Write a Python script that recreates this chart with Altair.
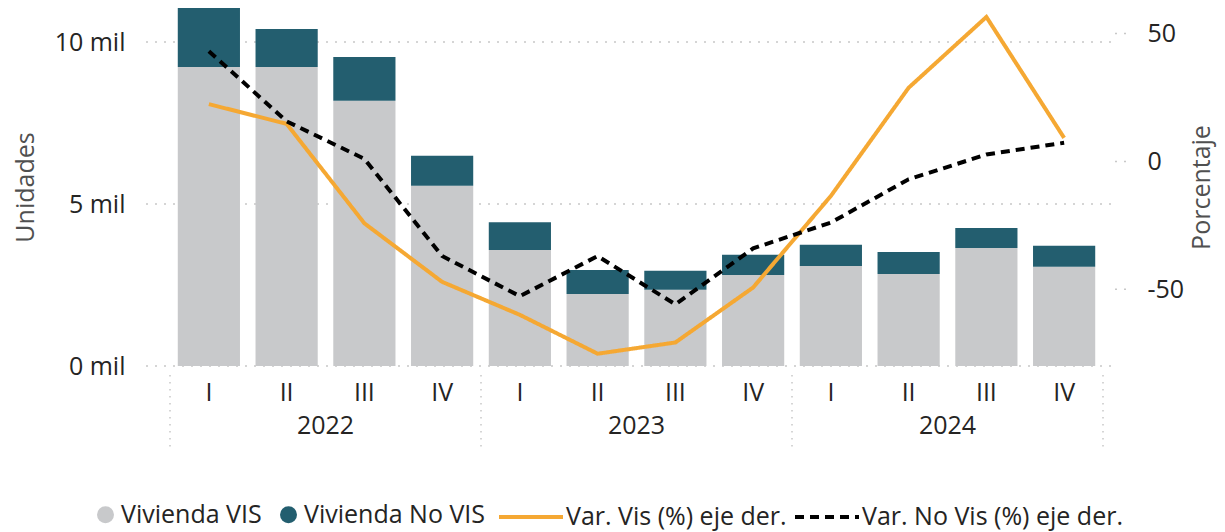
import altair as alt
import pandas as pd

FONT = "Open Sans"

# ---- data ----
years = ["2022", "2023", "2024"]
quarters = ["I", "II", "III", "IV"]
categories = [f"{y}-{q}" for y in years for q in quarters]

bar_series = ["Vivienda VIS", "Vivienda No VIS"]
vis = [9230, 9230, 8190, 5560, 3580, 2220, 2350, 2810, 3090, 2840, 3640, 3060]
no_vis = [1820, 1170, 1350, 930, 860, 740, 590, 620, 650, 680, 620, 650]

line_series = ["Var. Vis (%) eje der.", "Var. No Vis (%) eje der."]
var_vis = [22.4, 14.7, -24.2, -47.1, -60.0, -75.2, -70.8, -49.3, -13.5, 28.8, 56.5, 9.2]
var_no_vis = [43.1, 15.7, 1.0, -37.0, -52.7, -37.0, -55.9, -34.0, -23.9, -7.0, 2.7, 7.3]

left_ticks = [0, 5000, 10000]
right_ticks = [-50, 0, 50]
left_domain = [0, 11050]
right_domain = [-80, 60]

# ---- tables ----
bar_df = pd.DataFrame({
    "cat": categories * 2,
    "serie": [bar_series[0]] * 12 + [bar_series[1]] * 12,
    "value": vis + no_vis,
    "ord": [0] * 12 + [1] * 12,
})
line_df = pd.DataFrame({
    "cat": categories * 2,
    "serie": [line_series[0]] * 12 + [line_series[1]] * 12,
    "value": var_vis + var_no_vis,
})
grid_df = pd.DataFrame({"v": left_ticks})
rgrid_df = pd.DataFrame({"v": right_ticks})
year_df = pd.DataFrame({"year": years, "anchor": [f"{y}-II" for y in years]})
sep_start_df = pd.DataFrame({"anchor": [f"{y}-I" for y in years]})
sep_end_df = pd.DataFrame({"anchor": [categories[-1]]})

W, H = 933, 358
TXT = "#252423"
GRID = "#C8C8C8"

left_scale = alt.Scale(domain=left_domain, nice=False, zero=True)
right_scale = alt.Scale(domain=right_domain, nice=False, zero=False)

x_axis = alt.Axis(
    title=None, labelExpr="split(datum.value, '-')[1]", labelAngle=0,
    domain=False, ticks=False, tickSize=0, grid=False, labelPadding=14,
    labelFontSize=25, labelColor=TXT, labelFont=FONT,
)
left_axis = alt.Axis(
    values=left_ticks, labelExpr="format(datum.value / 1000, 'd') + ' mil'",
    grid=False, domain=False, ticks=False, tickSize=0, labelPadding=45, labelAlign="right",
    labelFontSize=25, labelColor=TXT, labelFont=FONT,
    title="Unidades", titleFont=FONT, titleFontSize=25, titleFontWeight="normal",
    titleColor="#505050", titleAngle=270, titleX=-145, titleY=179,
    titleAlign="center", titleBaseline="middle",
)
right_axis = alt.Axis(
    orient="right", values=right_ticks, labelExpr="'' + datum.value",
    grid=False, domain=False, ticks=False, tickSize=0, labelPadding=44, labelAlign="left",
    labelFontSize=25, labelColor=TXT, labelFont=FONT,
    title="Porcentaje", titleFont=FONT, titleFontSize=25, titleFontWeight="normal",
    titleColor="#505050", titleAngle=270, titleX=98, titleY=179,
    titleAlign="center", titleBaseline="middle",
)

xsc = alt.Scale(paddingInner=0, paddingOuter=0)

grid = alt.Chart(grid_df).mark_rule(strokeDash=[2, 7], strokeWidth=1.5, color=GRID).encode(
    y=alt.Y("v:Q", scale=left_scale, axis=left_axis),
    x=alt.value(-24), x2=alt.value(W + 14),
)

bars = alt.Chart(bar_df).mark_bar(width=alt.RelativeBandSize(0.8)).encode(
    x=alt.X("cat:N", sort=categories, scale=xsc, axis=x_axis),
    y=alt.Y("value:Q", stack="zero", scale=left_scale, axis=left_axis),
    fill=alt.Fill("serie:N", scale=alt.Scale(domain=bar_series, range=["#C8C9CB", "#235E6F"]),
                  legend=alt.Legend(orient="none", legendX=-77, legendY=494, direction="horizontal",
                                    title=None, symbolType="circle", symbolSize=289,
                                    labelFontSize=25, labelFont=FONT, labelColor=TXT,
                                    labelOffset=3, columnPadding=14, padding=0, labelLimit=600,
                                    symbolStrokeWidth=0, symbolOpacity=1)),
    order=alt.Order("ord:Q", sort="ascending"),
)

left_layer = alt.layer(grid, bars)

rgrid = alt.Chart(rgrid_df).mark_rule(strokeDash=[2, 7], strokeWidth=1.5, color=GRID).encode(
    y=alt.Y("v:Q", scale=right_scale, axis=right_axis),
    x=alt.value(W + 12), x2=alt.value(W + 26),
)

line_legend = alt.Legend(orient="none", legendX=327, legendY=475, direction="horizontal",
                         title=None, symbolType="stroke", symbolSize=4096, symbolStrokeWidth=4,
                         labelFontSize=25, labelFont=FONT, labelColor=TXT, labelLimit=600,
                         labelOffset=1, columnPadding=0, padding=0)
lines = alt.Chart(line_df).mark_line(strokeWidth=4).encode(
    x=alt.X("cat:N", sort=categories, bandPosition=0.5, scale=xsc, axis=x_axis),
    y=alt.Y("value:Q", scale=right_scale, axis=right_axis),
    stroke=alt.Stroke("serie:N", scale=alt.Scale(domain=line_series, range=["#F5A833", "#000000"]),
                      legend=line_legend),
    strokeDash=alt.StrokeDash("serie:N", scale=alt.Scale(domain=line_series, range=[[1, 0], [9, 6]]),
                              legend=line_legend),
)

right_layer = alt.layer(rgrid, lines)

year_text = alt.Chart(year_df).mark_text(fontSize=25, font=FONT, color=TXT, align="center",
                                         baseline="middle").encode(
    x=alt.X("anchor:N", sort=categories, bandPosition=1, scale=xsc, axis=x_axis),
    y=alt.value(418),
    text="year:N",
)

sep_style = dict(strokeDash=[1.5, 5.5], strokeWidth=1.5, color=GRID)
sep_start = alt.Chart(sep_start_df).mark_rule(**sep_style).encode(
    x=alt.X("anchor:N", sort=categories, bandPosition=0, scale=xsc, axis=x_axis),
    y=alt.value(367), y2=alt.value(440),
)
sep_end = alt.Chart(sep_end_df).mark_rule(**sep_style).encode(
    x=alt.X("anchor:N", sort=categories, bandPosition=1, scale=xsc, axis=x_axis),
    y=alt.value(367), y2=alt.value(440),
)

chart = alt.layer(left_layer, right_layer, year_text, sep_start, sep_end).resolve_scale(
    y="independent", fill="independent", stroke="independent", strokeDash="independent"
).properties(
    width=W, height=H,
    autosize=alt.AutoSizeParams(type="none"),
    padding={"left": 162, "top": 0, "right": 114, "bottom": 166},
).configure(font=FONT).configure_view(stroke=None)

chart.save("out.html", embed_options={"renderer": "svg", "actions": False})
